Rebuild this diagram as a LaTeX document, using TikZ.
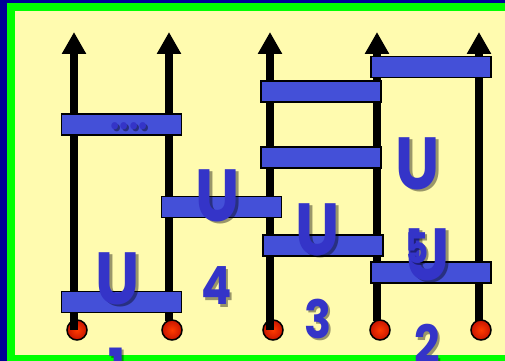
\documentclass[tikz,border=0pt]{standalone}
\usepackage{fontspec}
\setmainfont{Poppins}
\usetikzlibrary{arrows.meta}

\definecolor{framenavy}{RGB}{0,0,150}
\definecolor{framegreen}{RGB}{0,255,0}
\definecolor{paper}{RGB}{255,251,175}
\definecolor{barblue}{RGB}{68,80,216}
\definecolor{inkblue}{RGB}{52,52,200}
\definecolor{balltop}{RGB}{255,60,0}
\definecolor{ballrim}{RGB}{200,20,0}

\tikzset{
	pole/.style={line width=1.6mm, -{Triangle[width=4.6mm,length=4.4mm]}},
	bar/.style={draw=black, line width=0.3mm, fill=barblue, minimum width=2.4cm, minimum height=0.42cm, inner sep=0pt},
	ball/.style={circle, draw=black, line width=0.3mm, minimum size=0.4cm, inner sep=0pt, inner color=balltop, outer color=ballrim},
	ink/.style={text=inkblue, inner sep=0pt, xscale=0.85},
	inkshadow/.style={text=black, opacity=0.4, inner sep=0pt, xscale=0.85, xshift=0.05cm, yshift=-0.05cm},
}

% blue label with a soft drop shadow: name, position, size, text
\newcommand{\inklabel}[4]{%
	\node[inkshadow, font=\fontsize{#3}{#3}\selectfont\bfseries] (#1-s) at (#2) {#4};
	\node[ink, font=\fontsize{#3}{#3}\selectfont\bfseries] (#1) at (#2) {#4};
}

\begin{document}
\begin{tikzpicture}[x=0.02cm, y=-0.02cm]
	\useasboundingbox (0,0) rectangle (505,361);
	\clip (0,0) rectangle (505,361);
	% frame
	\fill[framenavy] (0,0) rectangle (505,361);
	\fill[framegreen] (7,3) rectangle (505,361);
	\fill[paper] (15,11) rectangle (505,355);

	% feet
	\node[ball] (b1) at (77,330) {};
	\node[ball] (b2) at (172,330) {};
	\node[ball] (b3) at (273,330) {};
	\node[ball] (b4) at (380,330) {};
	\node[ball] (b5) at (481,330) {};

	% poles
	\coordinate (p1) at (74,330);  \coordinate (t1) at (74,32);
	\coordinate (p2) at (169,321); \coordinate (t2) at (169,32);
	\coordinate (p3) at (270,330); \coordinate (t3) at (270,32);
	\coordinate (p4) at (377,321); \coordinate (t4) at (377,32);
	\coordinate (p5) at (479,321); \coordinate (t5) at (479,32);
	\draw[pole] (p1) -- (t1);
	\draw[pole] (p2) -- (t2);
	\draw[pole] (p3) -- (t3);
	\draw[pole] (p4) -- (t4);
	\draw[pole] (p5) -- (t5);

	% rungs
	\node[bar] (dotsbar) at (121.5,124.5) {};
	\node[bar] (bar1) at (121.5,302) {};
	\node[bar] (bar4) at (221.5,207) {};
	\node[bar] (bar3a) at (321,91.5) {};
	\node[bar] (bar3b) at (321,157.5) {};
	\node[bar] (bar3c) at (323,245.5) {};
	\node[bar] (bar2a) at (431,67) {};
	\node[bar] (bar2b) at (431,272.5) {};

	% labels
	\inklabel{dots}{129,126}{22}{....}
	\inklabel{u1}{118,278.5}{42}{U}
	\inklabel{u4}{218,195.5}{42}{U}
	\inklabel{u3}{318,229.5}{42}{U}
	\inklabel{u2a}{418,163.5}{42}{U}
	\inklabel{u2b}{428,254.5}{42}{U}
	\inklabel{five}{417,248}{24}{5}
	\inklabel{one}{117,367}{30}{1}
	\inklabel{four}{217,286}{30}{4}
	\inklabel{three}{318,318.5}{30}{3}
	\inklabel{two}{427,344}{30}{2}
\end{tikzpicture}
\end{document}
